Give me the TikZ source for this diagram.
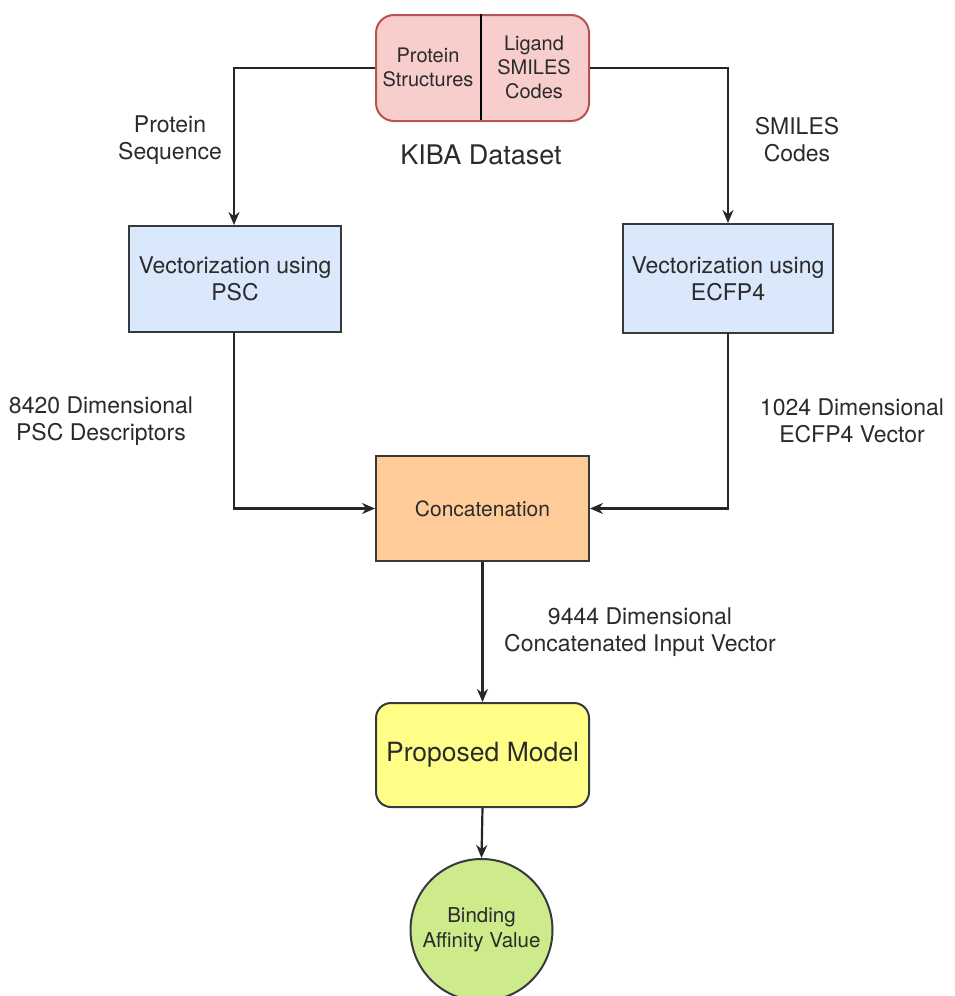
\documentclass[tikz,border=0pt]{standalone}
\usepackage{fontspec}
\setmainfont{TeX Gyre Heros}
\usetikzlibrary{arrows.meta}
\definecolor{pinkfill}{HTML}{F8CECC}
\definecolor{pinkline}{HTML}{B85450}
\definecolor{bluefill}{HTML}{DAE8FC}
\definecolor{orangefill}{HTML}{FFCC99}
\definecolor{yellowfill}{HTML}{FFFF88}
\definecolor{greenfill}{HTML}{CDEB8B}
\definecolor{edge}{HTML}{36393D}
\definecolor{txt}{HTML}{2B2B2B}
\tikzset{
  boxbase/.style={draw=edge, line width=2pt, text=txt, align=center, inner sep=0pt, anchor=north west},
  lbl/.style={text=txt, align=center, font=\fontsize{23}{27}\selectfont},
  conn/.style={draw=black!85, line width=2.2pt, -{Stealth[length=13pt,width=11pt]}},
}
\begin{document}
\begin{tikzpicture}[x=1pt,y=-1pt]
\useasboundingbox[fill=white] (0,0) rectangle (955,996);
\begin{scope}
\clip (0,0) rectangle (955,996);
% top box
\node[boxbase, draw=pinkline, fill=pinkfill, rounded corners=18pt, minimum width=213pt, minimum height=106pt] (top) at (375,14) {};
\draw[draw=black, line width=1.8pt] (481,14) -- (481,120);
\node[text=txt, align=center, font=\fontsize{20}{24}\selectfont] (ps) at (428,67) {Protein\\Structures};
\node[text=txt, align=center, font=\fontsize{20}{24}\selectfont] (lsc) at (534,67) {Ligand\\SMILES\\Codes};
\node[text=txt, font=\fontsize{27}{32}\selectfont] (kiba) at (481,155) {KIBA Dataset};

% vectorization boxes
\node[boxbase, fill=bluefill, minimum width=212pt, minimum height=106pt] (psc) at (128,225) {};
\node[text=txt, align=center, font=\fontsize{23}{27}\selectfont] at (psc.center) {Vectorization using\\PSC};
\node[boxbase, fill=bluefill, minimum width=210pt, minimum height=109pt] (ecfp) at (622,223) {};
\node[text=txt, align=center, font=\fontsize{23}{27}\selectfont] at (ecfp.center) {Vectorization using\\ECFP4};

% concatenation
\node[boxbase, fill=orangefill, minimum width=213pt, minimum height=105pt] (cat) at (375,455) {};
\node[text=txt, font=\fontsize{21}{25}\selectfont] at (cat.center) {Concatenation};

% proposed model
\node[boxbase, fill=yellowfill, rounded corners=15pt, minimum width=213pt, minimum height=104pt] (model) at (375,702) {};
\node[text=txt, font=\fontsize{26.5}{32}\selectfont] at (model.center) {Proposed Model};

% result circle
\node[circle, draw=edge, line width=2pt, fill=greenfill, minimum size=142pt, inner sep=0pt, text=txt, align=center, font=\fontsize{20.5}{25}\selectfont] (bav) at (481.5,930) {Binding\\Affinity Value};

% labels
\node[lbl] (l1) at (170,140) {Protein\\Sequence};
\node[lbl] (l2) at (797,140) {SMILES\\Codes};
\node[lbl] (l3) at (101,421) {8420 Dimensional\\PSC Descriptors};
\node[lbl] (l4) at (852,421) {1024 Dimensional\\ECFP4 Vector};
\node[lbl] (l5) at (640,632) {9444 Dimensional\\Concatenated Input Vector};

% connectors
\coordinate (c1) at (234,68);
\coordinate (c2) at (728,68);
\draw[conn] (top.west |- c1) -- (c1) -- (psc.north -| c1);
\draw[conn] (top.east |- c2) -- (c2) -- (ecfp.north -| c2);
\draw[conn] (psc.south -| c1) |- (cat.west);
\draw[conn] (ecfp.south -| c2) |- (cat.east);
\draw[conn] (cat.south) -- (model.north);
\draw[conn] (model.south) -- (bav.north);
\end{scope}
\end{tikzpicture}
\end{document}
